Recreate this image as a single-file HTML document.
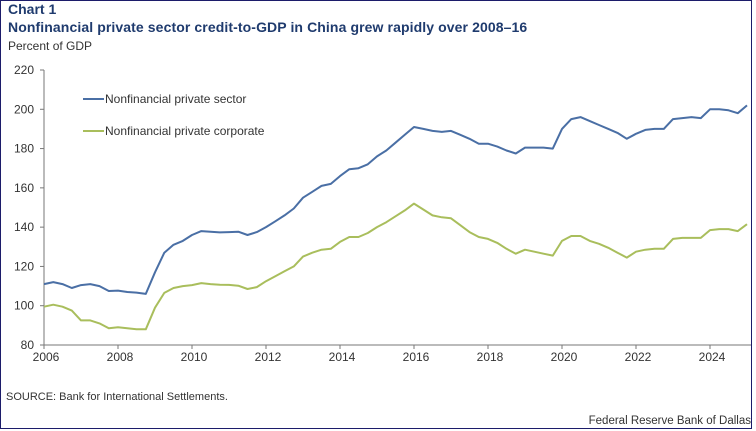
<!DOCTYPE html>
<html><head><meta charset="utf-8"><style>
html,body{margin:0;padding:0;background:#fff;}
body{width:756px;height:431px;overflow:hidden;position:relative;font-family:"Liberation Sans",sans-serif;}
#frame{position:absolute;left:0;top:0;width:752px;height:429px;border:1.5px solid #1c1c6a;box-sizing:border-box;}
.t{position:absolute;white-space:nowrap;}
</style></head><body>
<div id="frame"></div>
<div class="t" style="left:8px;top:1px;font-size:14px;font-weight:bold;color:#1f3b6e;">Chart 1</div>
<div class="t" style="left:8px;top:19px;font-size:14px;font-weight:bold;color:#1f3b6e;letter-spacing:0.1px;">Nonfinancial private sector credit-to-GDP in China grew rapidly over 2008–16</div>
<div class="t" style="left:8px;top:39px;font-size:12px;color:#333;">Percent of GDP</div>
<div class="t" style="left:6px;top:391px;font-size:11px;color:#333;">SOURCE: Bank for International Settlements.</div>
<div class="t" style="right:5px;top:415px;font-size:11.5px;color:#333;">Federal Reserve Bank of Dallas</div>
<svg id="chart" width="756" height="431" style="position:absolute;left:0;top:0;"></svg>
<script>
const yTicks=[80,100,120,140,160,180,200,220];
const xTicks=[2006,2008,2010,2012,2014,2016,2018,2020,2022,2024];
const startYear=2006;
const sectorValues=[111,112,111,109, 110.5,111,110,107.5, 107.7,107,106.7,106, 117,127,131,133, 136,138,137.7,137.3, 137.5,137.7,136,137.5, 140,143,146,149.5, 155,158,161,162, 166,169.5,170,172, 176,179,183,187, 191,190,189,188.5, 189,187,185,182.5, 182.5,181,179,177.5, 180.5,180.5,180.5,180, 190,195,196,194, 192,190,188,185, 187.5,189.5,190,190, 195,195.5,196,195.5, 200,200,199.5,198, 202];
const corporateValues=[99.5,100.5,99.5,97.5, 92.5,92.5,91,88.5, 89,88.5,88,88, 99,106.5,109,110, 110.5,111.5,111,110.7, 110.6,110.2,108.5,109.5, 112.5,115,117.5,120, 125,127,128.5,129, 132.5,135,135,137, 140,142.5,145.5,148.5, 152,149,146,145, 144.5,141,137.5,135, 134,132,129,126.5, 128.5,127.5,126.5,125.5, 133,135.5,135.5,133, 131.5,129.5,127,124.5, 127.5,128.5,129,129, 134,134.5,134.5,134.5, 138.5,139,139,138, 141.5];
const seriesNames=["Nonfinancial private sector","Nonfinancial private corporate"];
const NS="http://www.w3.org/2000/svg";
const svg=document.getElementById('chart');
const x0=44,pxYear=37,y0=345,pxUnit=275/140;
const X=t=>x0+(t-2006)*pxYear;
const Y=v=>y0-(v-80)*pxUnit;
function mk(tag,attrs){const e=document.createElementNS(NS,tag);for(const k in attrs)e.setAttribute(k,attrs[k]);svg.appendChild(e);return e;}
let a=mk('line',{x1:x0,y1:Y(220),x2:x0,y2:y0,stroke:'#777','stroke-width':1});


a=mk('line',{x1:x0,y1:y0,x2:751,y2:y0,stroke:'#777','stroke-width':1});


yTicks.forEach(v=>{
 let l=mk('line',{x1:x0-4,y1:Y(v),x2:x0,y2:Y(v),stroke:'#777'});
 
 
 let t=mk('text',{x:x0-10,y:Y(v)+4,'text-anchor':'end','font-size':12,fill:'#333','font-family':'Liberation Sans, sans-serif'});
 t.textContent=v;
 
 
});
xTicks.forEach(v=>{
 let l=mk('line',{x1:X(v),y1:y0,x2:X(v),y2:y0+4,stroke:'#777'});
 
 
 let t=mk('text',{x:X(v)+2,y:y0+16,'text-anchor':'middle','font-size':12,fill:'#333','font-family':'Liberation Sans, sans-serif'});
 t.textContent=v;
 
 
});
function path(vals){return vals.map((v,i)=>(i?'L':'M')+X(startYear+i*0.25).toFixed(1)+','+Y(v).toFixed(1)).join(' ');}
let p=mk('path',{d:path(sectorValues),fill:'none',stroke:'#4a6fa5','stroke-width':2,'stroke-linejoin':'round'});


p=mk('path',{d:path(corporateValues),fill:'none',stroke:'#a9be5c','stroke-width':2,'stroke-linejoin':'round'});


[['#4a6fa5',99,seriesNames[0]],['#a9be5c',131,seriesNames[1]]].forEach(([c,y,n])=>{
 let l=mk('line',{x1:83,y1:y,x2:104,y2:y,stroke:c,'stroke-width':2});
 
 
 let t=mk('text',{x:105,y:y+4,'font-size':12,fill:'#333','font-family':'Liberation Sans, sans-serif'});
 t.textContent=n;
 
 
});
</script>
</body></html>
